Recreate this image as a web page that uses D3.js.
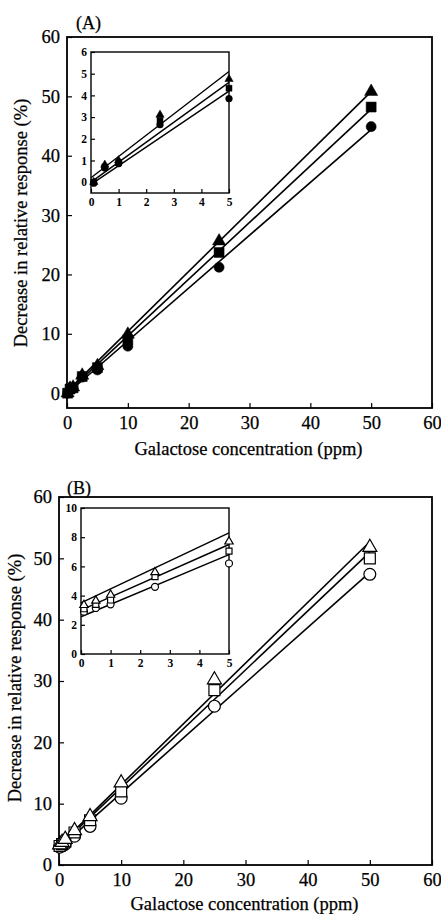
<!DOCTYPE html>
<html><head><meta charset="utf-8">
<script src="https://cdn.jsdelivr.net/npm/d3@7/dist/d3.min.js"></script>
<style>body{margin:0;background:#fff}svg{display:block}text{font-family:"Liberation Serif","Times New Roman",serif;fill:#000}</style>
</head><body>
<svg id="c" width="441" height="914"></svg>
<script>
// ---- data ----
const concMain = [0.1, 0.5, 1, 2.5, 5, 10, 25, 50];
const concInset = [0.1, 0.5, 1, 2.5, 5];
const seriesNames = ["triangle", "square", "circle"];

// Panel A (filled markers)
const aTriangle = [0.0, 0.8, 1.0, 3.0, 4.6, 9.9, 25.6, 50.8];
const aSquare   = [0.0, 0.7, 0.9, 2.8, 4.3, 9.0, 23.7, 48.2];
const aCircle   = [0.0, 0.6, 0.85, 2.7, 3.9, 7.9, 21.2, 44.9];
const aInsetTriangle = [0.0, 0.8, 1.0, 3.1, 4.75];
const aInsetSquare   = [0.0, 0.7, 0.9, 2.85, 4.33];
const aInsetCircle   = [-0.05, 0.65, 0.85, 2.65, 3.85];
const aFitIntercept = [0.3, 0.1, -0.1];
const aFitSlope     = [1.01, 0.955, 0.89];
const aInsetFitIntercept = [0.2, 0.0, -0.1];
const aInsetFitSlope     = [0.98, 0.92, 0.86];

// Panel B (open markers)
const bTriangle = [3.3, 3.7, 4.2, 5.6, 7.9, 13.4, 30.2, 51.8];
const bSquare   = [3.1, 3.4, 3.8, 5.3, 7.3, 12.0, 28.5, 50.0];
const bCircle   = [2.9, 3.1, 3.4, 4.7, 6.3, 10.9, 25.9, 47.4];
const bInsetTriangle = [3.35, 3.65, 4.05, 5.6, 7.7];
const bInsetSquare   = [3.1, 3.4, 3.7, 5.3, 7.05];
const bInsetCircle   = [2.9, 3.15, 3.4, 4.6, 6.2];
const bFitIntercept = [3.2, 3.0, 2.7];
const bFitSlope     = [0.99, 0.96, 0.9];
const bInsetFitIntercept = [3.5, 3.0, 2.55];
const bInsetFitSlope     = [0.96, 0.9, 0.85];

const mainXTicks = [0, 10, 20, 30, 40, 50, 60];
const mainYTicks = [0, 10, 20, 30, 40, 50, 60];
const aInsetYTicks = [0, 1, 2, 3, 4, 5, 6];
const bInsetYTicks = [0, 2, 4, 6, 8, 10];
const insetXTicks = [0, 1, 2, 3, 4, 5];
const xTitle = "Galactose concentration (ppm)";
const yTitle = "Decrease in relative response (%)";

// ---- drawing ----
const svg = d3.select("#c");
const symTypes = {triangle: d3.symbolTriangle, square: d3.symbolSquare, circle: d3.symbolCircle};

function drawAxes(g, x, y, xTicks, yTicks, o) {
  const [x0, x1] = x.range(), [y0, y1] = y.range();
  g.append("rect").attr("x", x0).attr("y", y1).attr("width", x1 - x0).attr("height", y0 - y1)
    .attr("fill", o.frameFill || "none").attr("stroke", "#000").attr("stroke-width", o.frameW);
  const xa = g.append("g").attr("transform", `translate(0,${y0})`)
    .call(d3.axisBottom(x).tickValues(xTicks).tickSize(-o.tick).tickPadding(o.xPad).tickFormat(d3.format("d")));
  const ya = g.append("g").attr("transform", `translate(${x0},0)`)
    .call(d3.axisLeft(y).tickValues(yTicks).tickSize(-o.tick).tickPadding(o.yPad).tickFormat(d3.format("d")));
  [xa, ya].forEach(a => {
    a.select(".domain").remove();
    a.selectAll(".tick line").attr("stroke", "#000").attr("stroke-width", 1.2);
    a.selectAll("text").attr("font-size", o.fs).attr("font-weight", o.fw)
      .attr("font-family", '"Liberation Serif", serif').attr("fill", "#000")
      .attr("stroke", "#000").attr("stroke-width", o.textStroke || 0);
  });
  return {xa, ya};
}

function drawSeries(g, x, y, conc, vals, intercepts, slopes, xEnd, o) {
  intercepts.forEach((b, i) => {
    g.append("line")
      .attr("x1", x(0)).attr("y1", y(b))
      .attr("x2", x(xEnd)).attr("y2", y(b + slopes[i] * xEnd))
      .attr("stroke", "#000").attr("stroke-width", o.lineW);
  });
  const order = [2, 1, 0];
  order.forEach(si => {
    const name = seriesNames[si];
    g.selectAll(null).data(conc.map((c, k) => [c, vals[si][k]])).enter()
      .append("path")
      .attr("transform", d => `translate(${x(d[0])},${y(d[1])})`)
      .attr("d", d3.symbol().type(symTypes[name]).size(o.sizes[si]))
      .attr("fill", o.open ? "#fff" : "#000")
      .attr("stroke", "#000").attr("stroke-width", o.open ? 1.2 : 0.5);
  });
}

function panel(cfg) {
  const g = svg.append("g");
  const x = d3.scaleLinear().domain([0, 60]).range([cfg.x0, cfg.x60]);
  const y = d3.scaleLinear().domain([cfg.yMin, 60]).range([cfg.yBottom, cfg.yTop]);
  drawAxes(g, x, y, mainXTicks, mainYTicks, {tick: 5, xPad: 8, yPad: 7, fs: 18.5, fw: "normal", frameW: 1.8, textStroke: 0.25});
  drawSeries(g, x, y, concMain, cfg.vals, cfg.fitB, cfg.fitM, 50, {lineW: 1.6, sizes: cfg.sizes, open: cfg.open});

  const ix = d3.scaleLinear().domain([0, 5]).range([cfg.ix0, cfg.ix5]);
  const iy = d3.scaleLinear().domain([cfg.iyMin, cfg.iyMax]).range([cfg.iyBottom, cfg.iyTop]);
  const gi = g.append("g");
  drawAxes(gi, ix, iy, insetXTicks, cfg.iyTicks, {tick: 4, xPad: 5, yPad: 4, fs: 11.5, fw: "bold", frameW: 1.4, frameFill: "#fff"});
  drawSeries(gi, ix, iy, concInset, cfg.ivals, cfg.ifitB, cfg.ifitM, 5, {lineW: 1.4, sizes: cfg.isizes, open: cfg.open});

  g.append("text").attr("x", cfg.labelX).attr("y", cfg.labelY).attr("font-size", 18)
    .attr("stroke", "#000").attr("stroke-width", 0.25).text(cfg.label);
  g.append("text").attr("x", (cfg.x0 + cfg.x60) / 2 - 1).attr("y", cfg.xTitleY)
    .attr("text-anchor", "middle").attr("font-size", 18.5)
    .attr("stroke", "#000").attr("stroke-width", 0.25).text(xTitle);
  g.append("text").attr("transform", `translate(${cfg.yTitleX},${cfg.yTitleY}) rotate(-90)`)
    .attr("text-anchor", "middle").attr("font-size", 18.5)
    .attr("stroke", "#000").attr("stroke-width", 0.25).text(yTitle);
}

panel({
  label: "(A)", labelX: 76, labelY: 29,
  x0: 67, x60: 432, yMin: -2.5, yBottom: 408, yTop: 37,
  vals: [aTriangle, aSquare, aCircle], fitB: aFitIntercept, fitM: aFitSlope,
  sizes: [75, 100, 80], open: false,
  ix0: 91, ix5: 229, iyMin: -0.5, iyMax: 6, iyBottom: 193, iyTop: 52, iyTicks: aInsetYTicks,
  ivals: [aInsetTriangle, aInsetSquare, aInsetCircle], ifitB: aInsetFitIntercept, ifitM: aInsetFitSlope,
  isizes: [30, 36, 36],
  xTitleY: 455, yTitleX: 27, yTitleY: 223
});

panel({
  label: "(B)", labelX: 67, labelY: 494,
  x0: 59, x60: 432, yMin: 0, yBottom: 865, yTop: 497,
  vals: [bTriangle, bSquare, bCircle], fitB: bFitIntercept, fitM: bFitSlope,
  sizes: [85, 120, 110], open: true,
  ix0: 81, ix5: 229, iyMin: 0, iyMax: 10, iyBottom: 654, iyTop: 508, iyTicks: bInsetYTicks,
  ivals: [bInsetTriangle, bInsetSquare, bInsetCircle], ifitB: bInsetFitIntercept, ifitM: bInsetFitSlope,
  isizes: [30, 36, 38],
  xTitleY: 910, yTitleX: 21, yTitleY: 678
});
</script>
</body></html>
